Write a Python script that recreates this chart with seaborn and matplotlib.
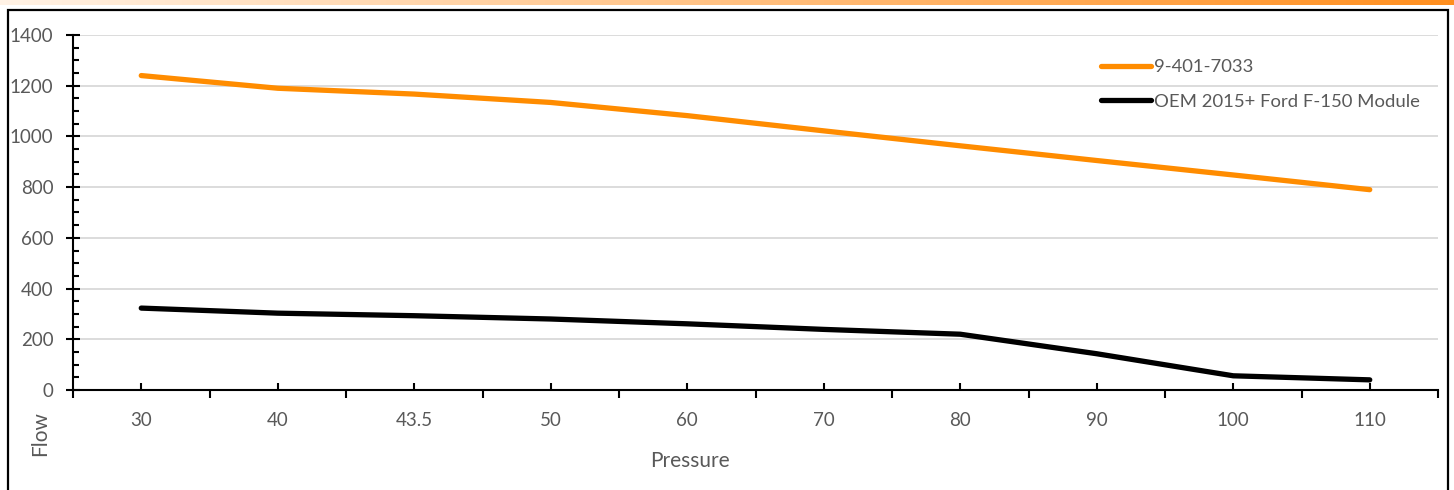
import matplotlib
matplotlib.use("Agg")
import matplotlib.pyplot as plt
import matplotlib.patches as mpatches
from matplotlib.ticker import MultipleLocator, FixedLocator
import numpy as np
import pandas as pd
import seaborn as sns

pressure = ["30", "40", "43.5", "50", "60", "70", "80", "90", "100", "110"]
flow_7033 = [1240, 1190, 1167, 1134, 1082, 1022, 963, 905, 848, 790]
flow_oem = [323, 303, 293, 280, 261, 239, 220, 143, 56, 40]
series_names = ["9-401-7033", "OEM 2015+ Ford F-150 Module"]
series_colors = ["#FF8C00", "#000000"]

sns.set_theme(style="white")
plt.rcParams["font.family"] = ["Lato", "DejaVu Sans"]

df = pd.DataFrame({
    "Pressure": pressure * 2,
    "Flow": flow_7033 + flow_oem,
    "Series": [series_names[0]] * len(pressure) + [series_names[1]] * len(pressure),
})
df["Pressure"] = pd.Categorical(df["Pressure"], categories=pressure, ordered=True)
df["x"] = df["Pressure"].cat.codes

W, H = 1454, 490
fig = plt.figure(figsize=(W / 100, H / 100), dpi=100)
ax = fig.add_axes([73 / W, (H - 390) / H, 1365 / W, 355 / H])

sns.lineplot(data=df, x="x", y="Flow", hue="Series", palette=series_colors,
             hue_order=series_names, linewidth=3.8, ax=ax, sort=False,
             legend=False)
for ln in ax.lines:
    ln.set_solid_capstyle("round")
    ln.set_solid_joinstyle("round")

grey = "#595959"
ax.set_xlim(-0.5, len(pressure) - 0.5)
ax.set_ylim(0, 1400)
ax.yaxis.set_major_locator(MultipleLocator(200))
ax.yaxis.set_minor_locator(MultipleLocator(50))
ax.grid(axis="y", which="major", color="#D9D9D9", linewidth=1.3)
ax.grid(axis="x", visible=False)
ax.set_axisbelow(True)

ax.set_xticks(range(len(pressure)))
ax.set_xticklabels(pressure)
ax.xaxis.set_minor_locator(FixedLocator(np.arange(-0.5, len(pressure), 1.0)))

for s in ["top", "right"]:
    ax.spines[s].set_visible(False)
for s in ["left", "bottom"]:
    ax.spines[s].set_color("black")
    ax.spines[s].set_linewidth(1.5)

ax.tick_params(axis="x", which="major", direction="in", length=5, width=1.5,
               color="black", labelsize=13.5, labelcolor=grey, pad=16, bottom=True)
ax.tick_params(axis="x", which="minor", direction="out", length=6, width=1.5,
               color="black", bottom=True)
ax.tick_params(axis="y", which="major", direction="inout", length=10, width=1.5,
               color="black", labelsize=13.5, labelcolor=grey, pad=9, left=True)
ax.tick_params(axis="y", which="minor", direction="in", length=4, width=1.5,
               color="black", left=True)

ax.set_xlabel("Pressure", fontsize=15, color=grey)
ax.set_ylabel("Flow", fontsize=15, color=grey)
ax.xaxis.set_label_coords((690 - 73) / 1365, (390 - 451) / 355)
ax.yaxis.set_label_coords((50 - 73) / 1365, (390 - 434) / 355)

handles = [plt.Line2D([], [], color=c, linewidth=3.8, solid_capstyle="round")
           for c in series_colors]
fig.legend(handles, series_names, loc="upper left",
           bbox_to_anchor=(1094 / W, 1 - 52 / H), frameon=False,
           fontsize=13.3, labelcolor=grey, handlelength=2.7,
           handletextpad=0.15, labelspacing=1.0, borderaxespad=0)

# top gradient bar
gax = fig.add_axes([0, 1 - 5 / H, 1, 5 / H])
grad = np.linspace(0, 1, 256)
c0 = np.array([1.0, 0.95, 0.90])
c1 = np.array([1.0, 0.56, 0.12])
img = (c0[None, :] * (1 - grad[:, None]) + c1[None, :] * grad[:, None])[None, :, :]
gax.imshow(img, aspect="auto", extent=(0, 1, 0, 1))
gax.axis("off")

# figure frame
fig.patches.append(mpatches.Rectangle((8 / W, -0.02), 1440 / W, (H - 10) / H + 0.02,
                                      transform=fig.transFigure, fill=False,
                                      edgecolor="black", linewidth=1.6))

fig.savefig("out.png", dpi=100)
